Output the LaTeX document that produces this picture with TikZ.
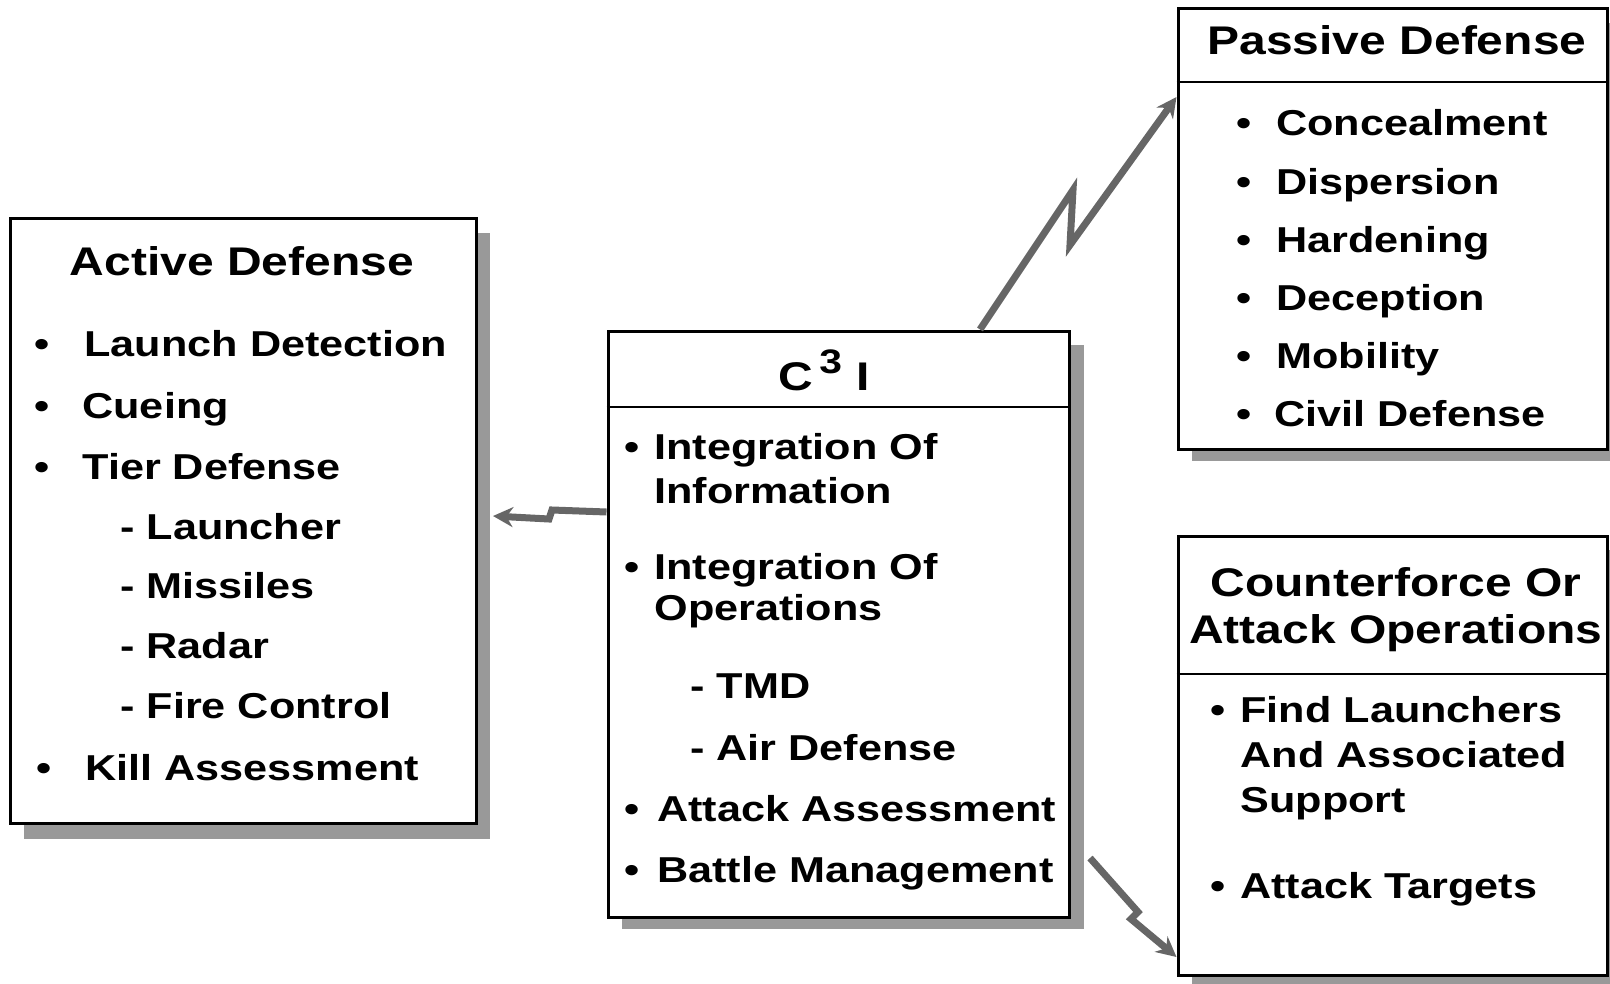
\documentclass[tikz,border=0pt]{standalone}
\usepackage{fontspec}
\setmainfont{Liberation Sans}[FakeStretch=1.2]
\usetikzlibrary{fit,arrows.meta}
\newcommand{\bl}[1]{\makebox[#1][l]{\textbullet}}
\tikzset{
  boxst/.style={draw=black, line width=1.5pt, fill=white, inner sep=0pt},
  shadowst/.style={fill=black!40},
  hdr/.style={draw=black, line width=1pt},
  item/.style={anchor=base west, inner sep=0pt, font=\fontsize{18}{20}\selectfont\bfseries},
  ttl/.style={anchor=base, inner sep=0pt, font=\fontsize{20}{24}\selectfont\bfseries},
  bolt/.style={draw=black!60, line width=3.5pt, line join=miter, -{Stealth[length=10pt,width=10pt]}}
}
\begin{document}
\begin{tikzpicture}[x=0.5pt,y=-0.5pt]
\useasboundingbox (0,0) rectangle (1610,984);
% shadows
\fill[shadowst] (24,233) rectangle (490,839);
\fill[shadowst] (622,345) rectangle (1084,929);
\fill[shadowst] (1192,23) rectangle (1622,461);
\fill[shadowst] (1192,550) rectangle (1622,992);
% box corners
\coordinate (adTL) at (10,219);   \coordinate (adBR) at (476,823);
\coordinate (ciTL) at (608,331);  \coordinate (ciBR) at (1069,917);
\coordinate (pdTL) at (1178,9);   \coordinate (pdBR) at (1607,449);
\coordinate (cfTL) at (1178,536); \coordinate (cfBR) at (1607,975);
\node[boxst, fit=(adTL)(adBR)] (ad) {};
\node[boxst, fit=(ciTL)(ciBR)] (ci) {};
\node[boxst, fit=(pdTL)(pdBR)] (pd) {};
\node[boxst, fit=(cfTL)(cfBR)] (cf) {};
% header lines
\draw[hdr] (ci.west |- 0,407) -- (ci.east |- 0,407);
\draw[hdr] (pd.west |- 0,82) -- (pd.east |- 0,82);
\draw[hdr] (cf.west |- 0,674) -- (cf.east |- 0,674);
% Active Defense
\node[ttl] (adt) at (242,275) {Active Defense};
\node[item] (ad1) at (34,356) {\bl{25pt}Launch Detection};
\node[item] (ad2) at (34,418) {\bl{24pt}Cueing};
\node[item] (ad3) at (34,479) {\bl{24pt}Tier Defense};
\node[item] (ad4) at (120,539) {- Launcher};
\node[item] (ad5) at (120,598) {- Missiles};
\node[item] (ad6) at (120,658) {- Radar};
\node[item] (ad7) at (120,718) {- Fire Control};
\node[item] (ad8) at (36,780) {\bl{24.5pt}Kill Assessment};
% C3I
\node[ttl] (cit) at (824,390) {C\hspace{3pt}\raisebox{8.5pt}{\fontsize{17}{18}\selectfont 3}\hspace{7pt}I};
\node[item] (ci1) at (624,459) {\bl{15pt}Integration Of};
\node[item] (ci2) at (654,503) {Information};
\node[item] (ci3) at (624,579) {\bl{15pt}Integration Of};
\node[item] (ci4) at (654,620) {Operations};
\node[item] (ci5) at (690,698) {- TMD};
\node[item] (ci6) at (690,760) {- Air Defense};
\node[item] (ci7) at (624,821) {\bl{16.5pt}Attack Assessment};
\node[item] (ci8) at (624,882) {\bl{16.5pt}Battle Management};
% Passive Defense
\node[ttl] (pdt) at (1397,55) {Passive Defense};
\node[item] (pd1) at (1236,136) {\bl{20pt}Concealment};
\node[item] (pd2) at (1236,195) {\bl{20pt}Dispersion};
\node[item] (pd3) at (1236,252) {\bl{20pt}Hardening};
\node[item] (pd4) at (1236,310) {\bl{20pt}Deception};
\node[item] (pd5) at (1236,368) {\bl{20pt}Mobility};
\node[item] (pd6) at (1236,426) {\bl{19pt}Civil Defense};
% Counterforce
\node[ttl] (cft1) at (1396,596) {Counterforce Or};
\node[ttl] (cft2) at (1396,643) {Attack Operations};
\node[item] (cf1) at (1210,722) {\bl{15pt}Find Launchers};
\node[item] (cf2) at (1240,767) {And Associated};
\node[item] (cf3) at (1240,812) {Support};
\node[item] (cf4) at (1210,898) {\bl{15pt}Attack Targets};
% bolts
\coordinate (b1b) at (1073,190);
\coordinate (b1c) at (1070,245);
\draw[bolt] (ci.north -| 980,0) -- (b1b) -- (b1c) -- (pd.west |- 0,97);
\coordinate (b2b) at (552,510);
\coordinate (b2c) at (549,519);
\coordinate (b2e) at (493,516);
\draw[bolt] (ci.west |- 0,512) -- (b2b) -- (b2c) -- (b2e);
\coordinate (b3s) at (1090,858);
\coordinate (b3b) at (1138,912);
\coordinate (b3c) at (1131,919);
\draw[bolt] (b3s) -- (b3b) -- (b3c) -- (cf.west |- 0,957);
\end{tikzpicture}
\end{document}
